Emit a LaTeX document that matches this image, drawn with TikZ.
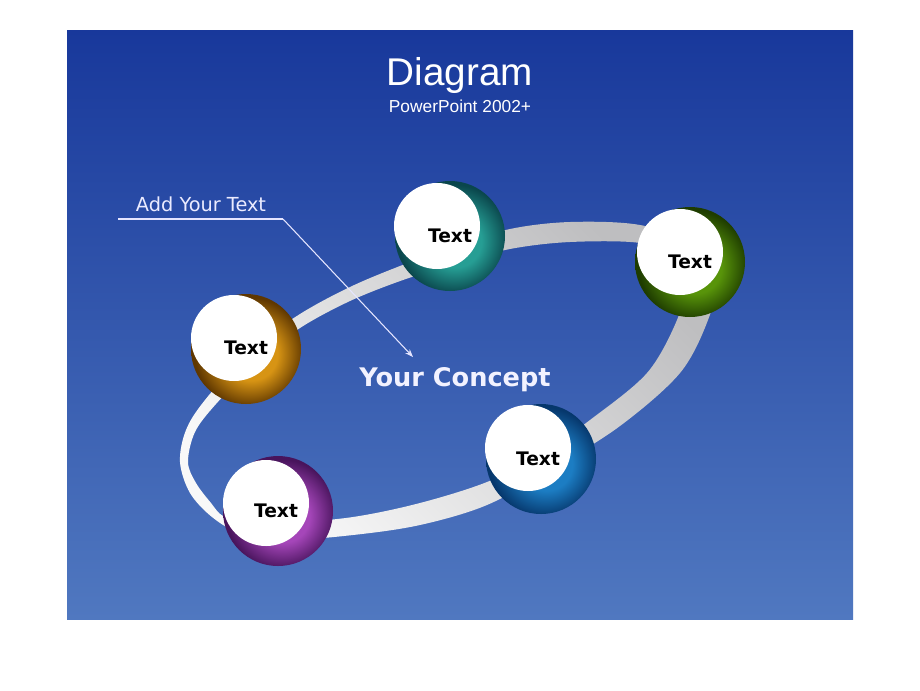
\documentclass[tikz,border=0pt]{standalone}
\usepackage{fontspec}
\setmainfont{Liberation Sans}
\newfontfamily\dvs{DejaVu Sans}
\usetikzlibrary{arrows.meta}
\definecolor{bgtop}{RGB}{24,56,155}
\definecolor{bgbot}{RGB}{80,120,192}
\definecolor{ringdark}{RGB}{190,190,192}
\definecolor{ringlight}{RGB}{248,248,248}
\definecolor{orB}{RGB}{215,148,20}\definecolor{orD}{RGB}{95,55,0}
\definecolor{teB}{RGB}{38,158,148}\definecolor{teD}{RGB}{10,70,76}
\definecolor{grB}{RGB}{88,148,10}\definecolor{grD}{RGB}{30,60,0}
\definecolor{blB}{RGB}{28,125,195}\definecolor{blD}{RGB}{6,55,108}
\definecolor{puB}{RGB}{165,70,185}\definecolor{puD}{RGB}{72,20,92}
\colorlet{sphA}{white}\colorlet{sphB}{black}
\pgfdeclareradialshading[sphA,sphB]{sphere}{\pgfpoint{3bp}{-3bp}}{color(0bp)=(sphA); color(12bp)=(sphA); color(25bp)=(sphB); color(50bp)=(sphB)}
\tikzset{
  sph/.style 2 args={circle, minimum size=82.5pt, inner sep=0pt, shade, shading=sphere,
     /utils/exec={\colorlet{sphA}{#1}\colorlet{sphB}{#2}}},
  disc/.style={circle, minimum size=64.5pt, inner sep=0pt, fill=white},
  lbl/.style={font=\dvs\bfseries\fontsize{14}{16}\selectfont, text=black, inner sep=0pt},
  callout/.style={draw=white!90!blue, line width=0.8pt},
}
\begin{document}
\begin{tikzpicture}[x=0.75pt,y=-0.75pt]
\useasboundingbox (0,0) rectangle (920,690);
\fill[white] (0,0) rectangle (920,690);
\shade[top color=bgtop, bottom color=bgbot] (67,30) rectangle (853,619);
% title
\node[text=white, font=\fontsize{29}{32}\selectfont, inner sep=0pt] (title) at (460,75) {Diagram};
\node[text=white, font=\fontsize{13}{15}\selectfont, inner sep=0pt] (sub) at (460,106) {PowerPoint 2002+};
% ring
\shade[even odd rule, top color=ringdark, bottom color=ringlight, shading angle=-45]
  plot[smooth cycle, tension=0.55] coordinates {(180,462) (186,430) (205,400) (250,350) (300,314) (350,287) (400,266) (455,246) (510,229) (570,222) (640,225) (695,245) (714,285) (708,320) (680,373) (620,426) (550,470) (487,505) (420,525) (353,535) (285,540) (240,533) (212,517) (190,493)}
  plot[smooth cycle, tension=0.55] coordinates {(188,462) (195,432) (216,404) (258,361) (300,328) (350,301) (403,280) (455,264) (510,249) (570,242) (640,243) (672,258) (682,290) (677,320) (647,373) (590,420) (540,455) (487,482) (420,503) (353,517) (285,523) (245,521) (223,516) (211,503) (196,483)};
% spheres
\node[sph={orB}{orD}] (s1) at (246,349) {};
\node[disc] (w1) at (234,338) {};
\node[lbl] (t1) at (246,348) {Text};
\node[sph={teB}{teD}] (s2) at (450,236) {};
\node[disc] (w2) at (437,226) {};
\node[lbl] (t2) at (450,236) {Text};
\node[sph={grB}{grD}] (s3) at (690,262) {};
\node[disc] (w3) at (680,252) {};
\node[lbl] (t3) at (690,262) {Text};
\node[sph={blB}{blD}] (s4) at (541,459) {};
\node[disc] (w4) at (528,448) {};
\node[lbl] (t4) at (538,459) {Text};
\node[sph={puB}{puD}] (s5) at (278,511) {};
\node[disc] (w5) at (266,503) {};
\node[lbl] (t5) at (276,511) {Text};
% concept
\node[text=white!95!blue, font=\dvs\bfseries\fontsize{19.2}{22}\selectfont, inner sep=0pt] (concept) at (455,380) {Your Concept};
% callout
\node[text=white!92!blue, font=\dvs\fontsize{14.5}{17}\selectfont, inner sep=0pt] (add) at (201,204) {Add Your Text};
\coordinate (ul) at (118,219);
\coordinate (elbow) at (283,219);
\coordinate (tip) at (413,357);
\draw[callout] (ul) -- (elbow);
\draw[callout, -{Stealth[length=6pt,width=4.5pt]}] (elbow) -- (tip);
\end{tikzpicture}
\end{document}
